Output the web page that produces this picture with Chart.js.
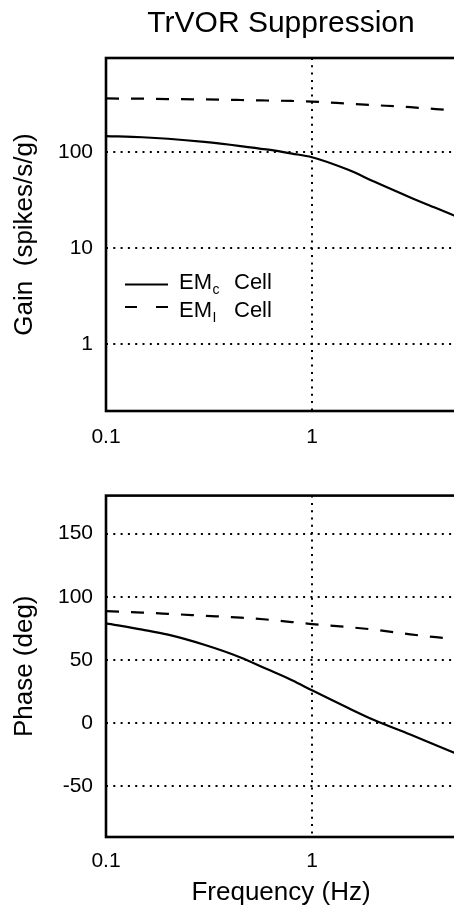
<!DOCTYPE html>
<html>
<head>
<meta charset="utf-8">
<script src="https://cdn.jsdelivr.net/npm/chart.js@4.4.1/dist/chart.umd.min.js"></script>
<style>
html, body { margin: 0; padding: 0; overflow: hidden; background: #fff; width: 454px; height: 908px; }
#topBox { position: absolute; left: 0; top: 0; width: 470px; height: 470px; }
#botBox { position: absolute; left: 0; top: 470px; width: 470px; height: 438px; }
</style>
</head>
<body>
<div id="topBox"><canvas id="gainChart" width="470" height="470"></canvas></div>
<div id="botBox"><canvas id="phaseChart" width="470" height="438"></canvas></div>
<script>
// ---- data ----
const frequencies = [0.1, 0.15, 0.2, 0.3, 0.45, 0.6, 0.8, 1, 1.5, 2, 3, 4, 5];
const gainEMc  = [146, 142, 137, 127, 115, 106, 96, 88, 65, 49, 33.5, 26, 21.3];
const gainEMi  = [360, 358, 355, 352, 347, 343, 339, 334, 318, 307, 292, 279, 270];
const phaseEMc = [79, 74, 70, 62, 52, 43, 34, 26, 12, 2.5, -9, -17.5, -24];
const phaseEMi = [88.6, 87.5, 86.5, 85, 83.5, 82, 80, 78.4, 76, 74, 70.3, 68, 66.5];
const freqTicks = [0.1, 1];
const freqTickLabels = ['0.1', '1'];
const gainTicks = [1, 10, 100];
const gainTickLabels = ['1', '10', '100'];
const phaseTicks = [-50, 0, 50, 100, 150];
const phaseTickLabels = ['-50', '0', '50', '100', '150'];
const seriesNames = ['EMc Cell', 'EMI Cell'];
const legendMain = ['EM', 'EM'];
const legendSub = ['c', 'I'];
const legendTail = ['Cell', 'Cell'];

const FONT = '"Liberation Sans", Arial, Helvetica, sans-serif';
Chart.defaults.font.family = FONT;
Chart.defaults.color = '#000';

const pts = (ys) => frequencies.map((f, i) => ({ x: f, y: ys[i] }));

const framePlugin = {
  id: 'frame',
  afterDatasetsDraw(chart) {
    const { ctx, chartArea: a } = chart;
    ctx.save();
    ctx.strokeStyle = '#000';
    ctx.lineWidth = 2.6;
    ctx.strokeRect(a.left, a.top, a.right - a.left, a.bottom - a.top);
    ctx.restore();
  }
};

const legendPlugin = {
  id: 'cellLegend',
  afterDraw(chart) {
    const { ctx, chartArea: a } = chart;
    const x0 = a.left + 19, x1 = a.left + 62, tx = a.left + 73, cellX = a.left + 128;
    const lineY = [a.top + 226.5, a.top + 249];
    const baseY = [a.top + 230.5, a.top + 258.5];
    const dashes = [[], [12, 19]];
    ctx.save();
    for (let i = 0; i < seriesNames.length; i++) {
      ctx.beginPath();
      ctx.setLineDash(dashes[i]);
      ctx.strokeStyle = '#000';
      ctx.lineWidth = 2.2;
      ctx.moveTo(x0, lineY[i]);
      ctx.lineTo(x1, lineY[i]);
      ctx.stroke();
      ctx.setLineDash([]);
      ctx.fillStyle = '#000';
      ctx.textBaseline = 'alphabetic';
      ctx.textAlign = 'left';
      ctx.font = '22px ' + FONT;
      ctx.fillText(legendMain[i], tx, baseY[i]);
      const w = ctx.measureText(legendMain[i]).width;
      ctx.font = '14px ' + FONT;
      ctx.fillText(legendSub[i], tx + w + 0.5, baseY[i] + 5);
      ctx.font = '22px ' + FONT;
      ctx.fillText(legendTail[i], cellX, baseY[i]);
    }
    ctx.restore();
  }
};

const gridOpts = { color: '#000', lineWidth: 2, drawTicks: false };
const borderOpts = { display: false, dash: [2, 5.3] };
const tickFont = { size: 21 };
const titleFont = { size: 26, lineHeight: 1.2 };

function lineDataset(label, ys, dash) {
  return {
    label: label,
    data: pts(ys),
    borderColor: '#000',
    backgroundColor: '#000',
    borderWidth: 2.2,
    borderDash: dash,
    pointRadius: 0,
    cubicInterpolationMode: 'monotone',
    fill: false
  };
}

new Chart(document.getElementById('gainChart'), {
  type: 'line',
  data: {
    datasets: [
      lineDataset(seriesNames[0], gainEMc, []),
      lineDataset(seriesNames[1], gainEMi, [13, 12])
    ]
  },
  options: {
    responsive: false,
    animation: false,
    layout: { padding: { left: 0, right: 14, top: 0, bottom: 0 } },
    plugins: {
      legend: { display: false },
      tooltip: { enabled: false },
      title: {
        display: true,
        text: 'TrVOR Suppression',
        fullSize: false,
        color: '#000',
        font: { size: 30, weight: 'normal', lineHeight: 1.2 },
        padding: { top: 6, bottom: 16 }
      }
    },
    scales: {
      x: {
        type: 'logarithmic',
        min: 0.1, max: 5,
        afterBuildTicks: s => { s.ticks = freqTicks.map(v => ({ value: v })); },
        afterFit: s => { s.height = 59; },
        ticks: { callback: (v, i) => freqTickLabels[i], font: tickFont, color: '#000', padding: 14, maxRotation: 0, autoSkip: false },
        grid: gridOpts,
        border: borderOpts
      },
      y: {
        type: 'logarithmic',
        min: 0.2, max: 950,
        afterBuildTicks: s => { s.ticks = gainTicks.map(v => ({ value: v })); },
        afterFit: s => { s.width = 106; },
        ticks: { callback: (v, i) => gainTickLabels[i], font: tickFont, color: '#000', padding: 13, autoSkip: false },
        grid: gridOpts,
        border: borderOpts,
        title: { display: true, text: 'Gain  (spikes/s/g)', font: titleFont, color: '#000', padding: { top: 9, bottom: 0 } }
      }
    }
  },
  plugins: [framePlugin, legendPlugin]
});

new Chart(document.getElementById('phaseChart'), {
  type: 'line',
  data: {
    datasets: [
      lineDataset(seriesNames[0], phaseEMc, []),
      lineDataset(seriesNames[1], phaseEMi, [13, 12])
    ]
  },
  options: {
    responsive: false,
    animation: false,
    layout: { padding: { left: 0, right: 14, top: 17.3, bottom: 0 } },
    plugins: {
      legend: { display: false },
      tooltip: { enabled: false },
      title: { display: false }
    },
    scales: {
      x: {
        type: 'logarithmic',
        min: 0.1, max: 5,
        afterBuildTicks: s => { s.ticks = freqTicks.map(v => ({ value: v })); },
        afterFit: s => { s.height = 71; },
        ticks: { callback: (v, i) => freqTickLabels[i], font: tickFont, color: '#000', padding: 12, maxRotation: 0, autoSkip: false },
        grid: gridOpts,
        border: borderOpts,
        title: { display: true, text: 'Frequency (Hz)', font: titleFont, color: '#000', padding: { top: 0, bottom: 0 } }
      },
      y: {
        type: 'linear',
        min: -90, max: 180,
        afterBuildTicks: s => { s.ticks = phaseTicks.map(v => ({ value: v })); },
        afterFit: s => { s.width = 106; },
        ticks: { callback: (v, i) => phaseTickLabels[i], font: tickFont, color: '#000', padding: 13, autoSkip: false },
        grid: gridOpts,
        border: borderOpts,
        title: { display: true, text: 'Phase (deg)', font: titleFont, color: '#000', padding: { top: 9, bottom: 0 } }
      }
    }
  },
  plugins: [framePlugin]
});
</script>
</body>
</html>
